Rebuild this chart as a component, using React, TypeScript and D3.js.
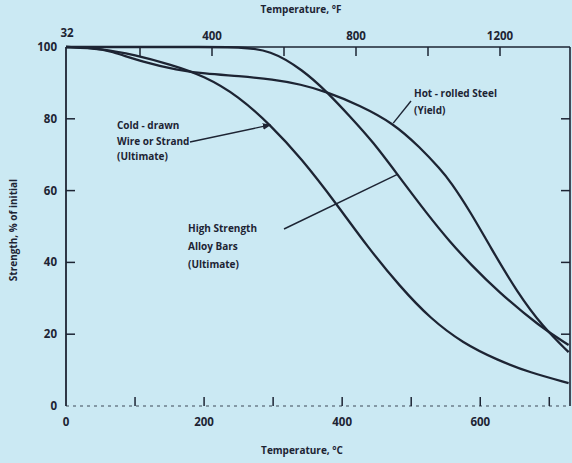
import React from "react";
import * as d3 from "d3";

// strength retention vs temperature
const coldDrawnC = [0, 50, 100, 150, 200, 250, 296, 340, 393, 436, 484, 528, 575, 625, 672, 728];
const coldDrawnV = [100, 99.6, 97.8, 95.2, 92.0, 86.3, 78.3, 69.2, 56, 44.5, 33.2, 24.3, 17.5, 12.8, 9.3, 6.4];

const hotRolledC = [0, 40, 64, 112, 161, 200, 250, 300, 340, 378, 425, 474, 513, 542, 557, 586, 614, 654, 691, 728];
const hotRolledV = [100, 99.8, 98.9, 95.8, 93.6, 92.6, 91.9, 91.0, 89.6, 87.5, 83.8, 78.8, 72, 66, 62.5, 54, 44.5, 31.5, 22, 15];

const alloyBarsC = [0, 100, 200, 250, 296, 343, 378, 412, 445, 480, 523, 557, 586, 625, 687, 728];
const alloyBarsV = [100, 100, 100, 100, 99.2, 93.6, 87.5, 80.5, 73.5, 64.5, 53.5, 45.5, 39.5, 32, 22, 17];

const yTicks = [0, 20, 40, 60, 80, 100];
const cTicks = [100, 200, 300, 400, 500, 600, 700];
const cLabels = [0, 200, 400, 600];
const fTicks = [200, 400, 600, 800, 1000, 1200];
const fLabels = [400, 800, 1200];

const ink = "#1d2433";
const bg = "#cbe9f3";
const font = "'Open Sans', 'DejaVu Sans', sans-serif";

const App = () => {
  const xC = d3.scaleLinear().domain([0, 730]).range([66, 570]);
  const xF = d3.scaleLinear().domain([0, 1400]).range([68, 572]);
  const y = d3.scaleLinear().domain([0, 100]).range([406, 47]);

  const line = d3.line<[number, number]>()
    .x(d => xC(d[0]))
    .y(d => y(d[1]))
    .curve(d3.curveBasis);

  const zip = (a: number[], b: number[]) => a.map((v, i) => [v, b[i]] as [number, number]);
  const series = [
    zip(coldDrawnC, coldDrawnV),
    zip(hotRolledC, hotRolledV),
    zip(alloyBarsC, alloyBarsV),
  ];

  const [x0, x1] = xC.range();
  const [yb, yt] = y.range();

  const label = { fontFamily: font, fontWeight: 700, fontSize: 10, fill: ink } as const;
  const tick = { fontFamily: font, fontWeight: 700, fontSize: 11.5, fill: ink } as const;

  // leader tips sit on the curves
  const cdTip = [xC(296), y(78.3)];
  const hrTip = [xC(474), y(78.8)];
  const abTip = [xC(480), y(64.5)];

  return (
    <>
      <style>{`body{margin:0}`}</style>
      <svg width={572} height={463} style={{ display: "block" }}>
        <defs>
          <marker id="arr" viewBox="0 0 10 10" refX="9" refY="5" markerWidth="6" markerHeight="6" orient="auto">
            <path d="M0,1 L10,5 L0,9 z" fill={ink} />
          </marker>
        </defs>
        <rect width={572} height={463} fill={bg} />

        {/* frame */}
        <line x1={x0} x2={x0} y1={yt} y2={yb} stroke={ink} strokeWidth={1.8} />
        <line x1={x1} x2={x1} y1={yt} y2={yb} stroke={ink} strokeWidth={1.6} />
        <line x1={x0} x2={x1} y1={yt} y2={yt} stroke={ink} strokeWidth={1.6} />
        <line x1={x0} x2={x1} y1={yb} y2={yb} stroke={ink} strokeWidth={1.2} strokeDasharray="3 4" opacity={0.8} />

        {yTicks.filter(v => v > 0 && v < 100).map(v => (
          <g key={"yt" + v}>
            <line x1={x0} x2={x0 + 9} y1={y(v)} y2={y(v)} stroke={ink} strokeWidth={1.5} />
            <line x1={x1 - 9} x2={x1} y1={y(v)} y2={y(v)} stroke={ink} strokeWidth={1.5} />
          </g>
        ))}
        {yTicks.map(v => (
          <text key={"yl" + v} x={57} y={y(v)} dy="0.35em" textAnchor="end" {...tick}>{v}</text>
        ))}

        {cTicks.map(v => (
          <line key={"ct" + v} x1={xC(v)} x2={xC(v)} y1={yb} y2={yb - 9} stroke={ink} strokeWidth={1.5} />
        ))}
        {[0, ...cLabels.filter(v => v > 0)].map(v => (
          <text key={"cl" + v} x={xC(v)} y={426} textAnchor="middle" {...tick}>{v}</text>
        ))}

        {fTicks.map(v => (
          <line key={"ft" + v} x1={xF(v)} x2={xF(v)} y1={yt} y2={yt + 9} stroke={ink} strokeWidth={1.5} />
        ))}
        {fLabels.map(v => (
          <text key={"fl" + v} x={xF(v)} y={40} textAnchor="middle" {...tick}>{v}</text>
        ))}
        <text x={xC(0) + 1} y={37} textAnchor="middle" {...tick}>32</text>

        <text x={301} y={13} textAnchor="middle" {...label}>Temperature, °F</text>
        <text x={302} y={454} textAnchor="middle" {...label}>Temperature, °C</text>
        <text transform="translate(17,230) rotate(-90)" textAnchor="middle" {...label}>Strength, % of initial</text>

        {series.map((s, i) => (
          <path key={"s" + i} d={line(s) || ""} fill="none" stroke={ink} strokeWidth={2.3} />
        ))}

        {/* annotations */}
        <text x={117} y={129} {...label}>
          <tspan x={117}>Cold - drawn</tspan>
          <tspan x={117} dy={16}>Wire or Strand</tspan>
          <tspan x={117} dy={15}>(Ultimate)</tspan>
        </text>
        <line x1={190} y1={142} x2={cdTip[0]} y2={cdTip[1]} stroke={ink} strokeWidth={1.4} markerEnd="url(#arr)" />

        <text x={188} y={232} {...label}>
          <tspan x={188}>High Strength</tspan>
          <tspan x={188} dy={18}>Alloy Bars</tspan>
          <tspan x={188} dy={18}>(Ultimate)</tspan>
        </text>
        <line x1={284} y1={229} x2={abTip[0]} y2={abTip[1]} stroke={ink} strokeWidth={1.4} />

        <text x={414} y={97} {...label}>
          <tspan x={414}>Hot - rolled Steel</tspan>
          <tspan x={414} dy={17}>(Yield)</tspan>
        </text>
        <line x1={411} y1={101} x2={hrTip[0]} y2={hrTip[1]} stroke={ink} strokeWidth={1.4} />
      </svg>
    </>
  );
};

export default App;
